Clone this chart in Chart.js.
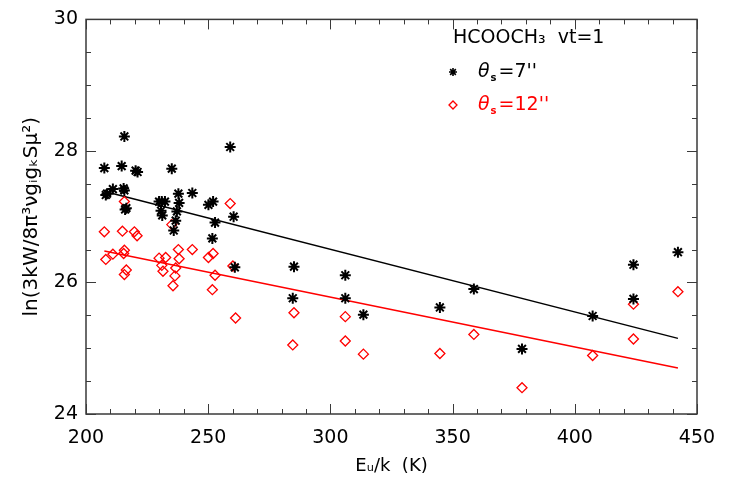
<!DOCTYPE html>
<html><head><meta charset="utf-8">
<script src="https://cdn.jsdelivr.net/npm/chart.js@4/dist/chart.umd.min.js"></script>
<style>html,body{margin:0;padding:0;background:#fff}#wrap{width:729px;height:479px}</style>
</head><body><div id="wrap"><canvas id="c" width="729" height="479"></canvas></div>
<script>
// ---- data ----
const seriesNames = ["θs=7''", "θs=12''"];
const legendTitle = "HCOOCH₃  vt=1";
const xTitle = "Eᵤ/k  (K)";
const yTitle = "ln(3kW/8π³νgᵢgₖSμ²)";
const xTicks = [200, 250, 300, 350, 400, 450];
const yTicks = [24, 26, 28, 30];

const blackX = [207.5,208.1,208.6,211.0,214.6,215.7,215.4,215.7,216.0,216.5,220.3,221.1,235.1,229.9,231.0,232.3,230.7,231.2,237.8,238.1,237.2,236.7,235.9,243.5,250.1,252.0,252.8,251.7,259.0,260.4,260.9,285.1,284.6,306.1,306.1,313.5,344.8,358.7,378.4,407.3,424.0,424.0,442.2];
const blackY = [27.74,27.33,27.35,27.42,27.77,28.22,27.43,27.40,27.11,27.13,27.70,27.68,27.73,27.23,27.23,27.23,27.09,27.02,27.35,27.21,27.08,26.94,26.79,27.36,27.18,27.23,26.91,26.67,28.06,27.00,26.23,26.24,25.76,26.11,25.76,25.51,25.62,25.90,24.99,25.49,26.27,25.75,26.46];

const redX = [207.5,208.1,211.0,214.9,215.7,215.7,215.4,216.5,215.7,219.8,220.9,229.9,232.6,231.0,231.5,237.8,238.1,236.7,236.4,235.6,235.1,243.5,250.1,252.0,252.8,251.7,259.0,260.1,261.2,285.1,284.6,306.1,306.1,313.5,344.8,358.7,378.4,407.3,424.0,424.0,442.2];
const redY = [26.77,26.35,26.43,26.78,27.23,26.49,26.44,26.19,26.12,26.77,26.71,26.37,26.38,26.26,26.17,26.50,26.36,26.22,26.10,25.95,26.88,26.50,26.38,26.44,26.11,25.89,27.20,26.25,25.46,25.54,25.05,25.48,25.11,24.91,24.92,25.21,24.40,24.89,25.67,25.14,25.86];

const fitBlackX = [208.1, 442.2];
const fitBlackY = [27.38, 25.15];
const fitRedX = [207.5, 442.2];
const fitRedY = [26.48, 24.70];

// ---- build ----
const pts = (xs, ys) => xs.map((x, i) => ({x: x, y: ys[i]}));
const FONT = "'DejaVu Sans', sans-serif";
const AXIS = '#3a3a3a';

const frameTicks = {
  id: 'frameTicks',
  afterDatasetsDraw(chart) {
    const {ctx, chartArea: a, scales: {x, y}} = chart;
    ctx.save();
    ctx.strokeStyle = AXIS;
    ctx.lineWidth = 1.5;
    ctx.strokeRect(a.left, a.top, a.right - a.left, a.bottom - a.top);
    ctx.lineWidth = 1;
    ctx.beginPath();
    for (let v = x.min; v <= x.max + 1e-6; v += 10) {
      const px = Math.round(x.getPixelForValue(v)) + 0.5;
      const L = (Math.abs(v % 50) < 1e-6) ? 10 : 5;
      ctx.moveTo(px, a.bottom); ctx.lineTo(px, a.bottom - L);
      ctx.moveTo(px, a.top); ctx.lineTo(px, a.top + L);
    }
    for (let v = y.min; v <= y.max + 1e-6; v += 0.5) {
      const py = Math.round(y.getPixelForValue(v)) + 0.5;
      const L = (Math.abs(v % 2) < 1e-6) ? 10 : 5;
      ctx.moveTo(a.left, py); ctx.lineTo(a.left + L, py);
      ctx.moveTo(a.right, py); ctx.lineTo(a.right - L, py);
    }
    ctx.stroke();
    ctx.restore();
  },
  afterDraw(chart) {
    const {ctx} = chart;
    ctx.save();
    ctx.textBaseline = 'middle';
    ctx.fillStyle = '#000';
    ctx.font = "19px " + FONT;
    ctx.fillText(legendTitle, 453, 38);
    const rows = [
      {y: 72, color: '#000', fill: '#000', style: 'star', name: seriesNames[0], border: 1.6},
      {y: 105, color: '#ff0000', fill: 'rgba(0,0,0,0)', style: 'rectRot', name: seriesNames[1], border: 1.3}
    ];
    rows.forEach(r => {
      ctx.strokeStyle = r.color; ctx.fillStyle = r.fill; ctx.lineWidth = r.border;
      Chart.helpers.drawPoint(ctx, {pointStyle: r.style, radius: 4, borderWidth: r.border}, 453, r.y);
      let xx = 478;
      ctx.fillStyle = r.color;
      ctx.font = "italic 19px " + FONT;
      ctx.fillText(r.name.charAt(0), xx, r.y);
      xx += ctx.measureText(r.name.charAt(0)).width + 1;
      ctx.font = "bold 10px " + FONT;
      ctx.fillText(r.name.charAt(1), xx, r.y + 6);
      xx += ctx.measureText(r.name.charAt(1)).width + 2;
      ctx.font = "19px " + FONT;
      ctx.fillText(r.name.slice(2), xx, r.y);
    });
    ctx.restore();
  }
};

new Chart(document.getElementById('c'), {
  type: 'scatter',
  data: {
    datasets: [
      {label: seriesNames[0], data: pts(blackX, blackY), pointStyle: 'star', pointRadius: 5.5,
       borderColor: '#000', backgroundColor: '#000', borderWidth: 2, showLine: false},
      {label: seriesNames[1], data: pts(redX, redY), pointStyle: 'rectRot', pointRadius: 5,
       borderColor: '#ff0000', backgroundColor: 'rgba(0,0,0,0)', borderWidth: 1.3, showLine: false},
      {label: 'fit 7', data: pts(fitBlackX, fitBlackY), showLine: true, pointRadius: 0,
       borderColor: '#000', borderWidth: 1.5, fill: false},
      {label: 'fit 12', data: pts(fitRedX, fitRedY), showLine: true, pointRadius: 0,
       borderColor: '#ff0000', borderWidth: 1.5, fill: false}
    ]
  },
  options: {
    responsive: false,
    animation: false,
    devicePixelRatio: 1,
    layout: {padding: {top: 11, right: 32, left: 0, bottom: 0}},
    plugins: {legend: {display: false}, tooltip: {enabled: false}},
    scales: {
      x: {
        type: 'linear', min: 200, max: 450,
        afterBuildTicks: s => { s.ticks = xTicks.map(v => ({value: v})); },
        afterFit: s => { s.height = 65; },
        grid: {display: false, drawTicks: false},
        border: {display: false},
        ticks: {color: '#000', font: {family: FONT, size: 19}, padding: 13, maxRotation: 0},
        title: {display: true, text: xTitle, color: '#000', font: {family: FONT, size: 18}, padding: {top: 0, bottom: 2}}
      },
      y: {
        type: 'linear', min: 24, max: 30,
        afterBuildTicks: s => { s.ticks = yTicks.map(v => ({value: v})); },
        afterFit: s => { s.width = 86; },
        grid: {display: false, drawTicks: false},
        border: {display: false},
        ticks: {color: '#000', font: {family: FONT, size: 19}, padding: 8},
        title: {display: true, text: yTitle, color: '#000', font: {family: FONT, size: 20}, padding: {top: 20, bottom: 0}}
      }
    }
  },
  plugins: [frameTicks]
});
</script>
</body></html>
